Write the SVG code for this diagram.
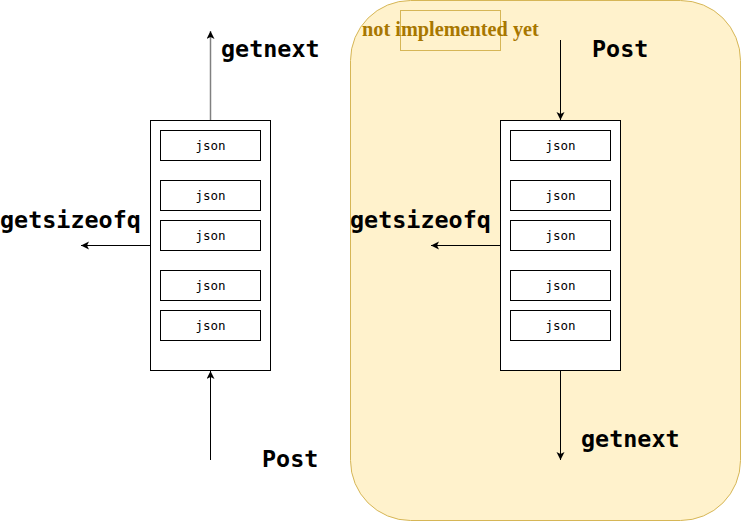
<svg xmlns="http://www.w3.org/2000/svg" width="741" height="521" viewBox="0 0 741 521">
<style>
.q{fill:#fff;stroke:#000;stroke-width:1}
.j{fill:#fff;stroke:#000;stroke-width:1}
.jt{font-family:"DejaVu Sans Mono",monospace;font-size:12.5px;fill:#000;text-anchor:middle}
.lb{font-family:"DejaVu Sans Mono",monospace;font-size:23.4px;font-weight:bold;fill:#000}
.c{fill:none;stroke:#000;stroke-width:1}
</style>
<defs>
<marker id="ah" markerWidth="10" markerHeight="10" refX="8" refY="4" orient="auto" markerUnits="userSpaceOnUse">
<path d="M0,0 L8,4 L0,8 L2,4 z" fill="#000"/>
</marker>
</defs>
<g id="container">
<rect x="350.5" y="0.5" width="390" height="520" rx="60" ry="60" fill="#fff2cc" stroke="#d6b656"/>
<rect x="400.5" y="10.5" width="100" height="40" fill="none" stroke="#d6b656"/>
<text x="362" y="36" font-family="Liberation Serif,serif" font-size="20.3" font-weight="bold" fill="#a87700">not implemented yet</text>
</g>
<g id="queue-left">
<rect class="q" x="150.5" y="120.5" width="120" height="250"/>
<rect class="j" x="160.5" y="130.5" width="100" height="30"/><text class="jt" x="210.5" y="149.5">json</text>
<rect class="j" x="160.5" y="180.5" width="100" height="30"/><text class="jt" x="210.5" y="199.5">json</text>
<rect class="j" x="160.5" y="220.5" width="100" height="30"/><text class="jt" x="210.5" y="239.5">json</text>
<rect class="j" x="160.5" y="270.5" width="100" height="30"/><text class="jt" x="210.5" y="289.5">json</text>
<rect class="j" x="160.5" y="310.5" width="100" height="30"/><text class="jt" x="210.5" y="329.5">json</text>
</g>
<g id="queue-right">
<rect class="q" x="500.5" y="120.5" width="120" height="250"/>
<rect class="j" x="510.5" y="130.5" width="100" height="30"/><text class="jt" x="560.5" y="149.5">json</text>
<rect class="j" x="510.5" y="180.5" width="100" height="30"/><text class="jt" x="560.5" y="199.5">json</text>
<rect class="j" x="510.5" y="220.5" width="100" height="30"/><text class="jt" x="560.5" y="239.5">json</text>
<rect class="j" x="510.5" y="270.5" width="100" height="30"/><text class="jt" x="560.5" y="289.5">json</text>
<rect class="j" x="510.5" y="310.5" width="100" height="30"/><text class="jt" x="560.5" y="329.5">json</text>
</g>
<g id="labels">
<text class="lb" x="221" y="57">getnext</text>
<text class="lb" x="0" y="228">getsizeofq</text>
<text class="lb" x="262" y="467">Post</text>
<text class="lb" x="592" y="57">Post</text>
<text class="lb" x="350" y="228">getsizeofq</text>
<text class="lb" x="581" y="447">getnext</text>
</g>
<g id="connectors">
<line x1="210.5" y1="120" x2="210.5" y2="31" stroke="#808080" stroke-width="1.5" marker-end="url(#ah)"/>
<line class="c" x1="150" y1="245.5" x2="81" y2="245.5" marker-end="url(#ah)"/>
<line class="c" x1="210.5" y1="460" x2="210.5" y2="371" marker-end="url(#ah)"/>
<line class="c" x1="560.5" y1="40" x2="560.5" y2="120" marker-end="url(#ah)"/>
<line class="c" x1="500" y1="245.5" x2="431" y2="245.5" marker-end="url(#ah)"/>
<line class="c" x1="560.5" y1="371" x2="560.5" y2="460" marker-end="url(#ah)"/>
</g>
</svg>
